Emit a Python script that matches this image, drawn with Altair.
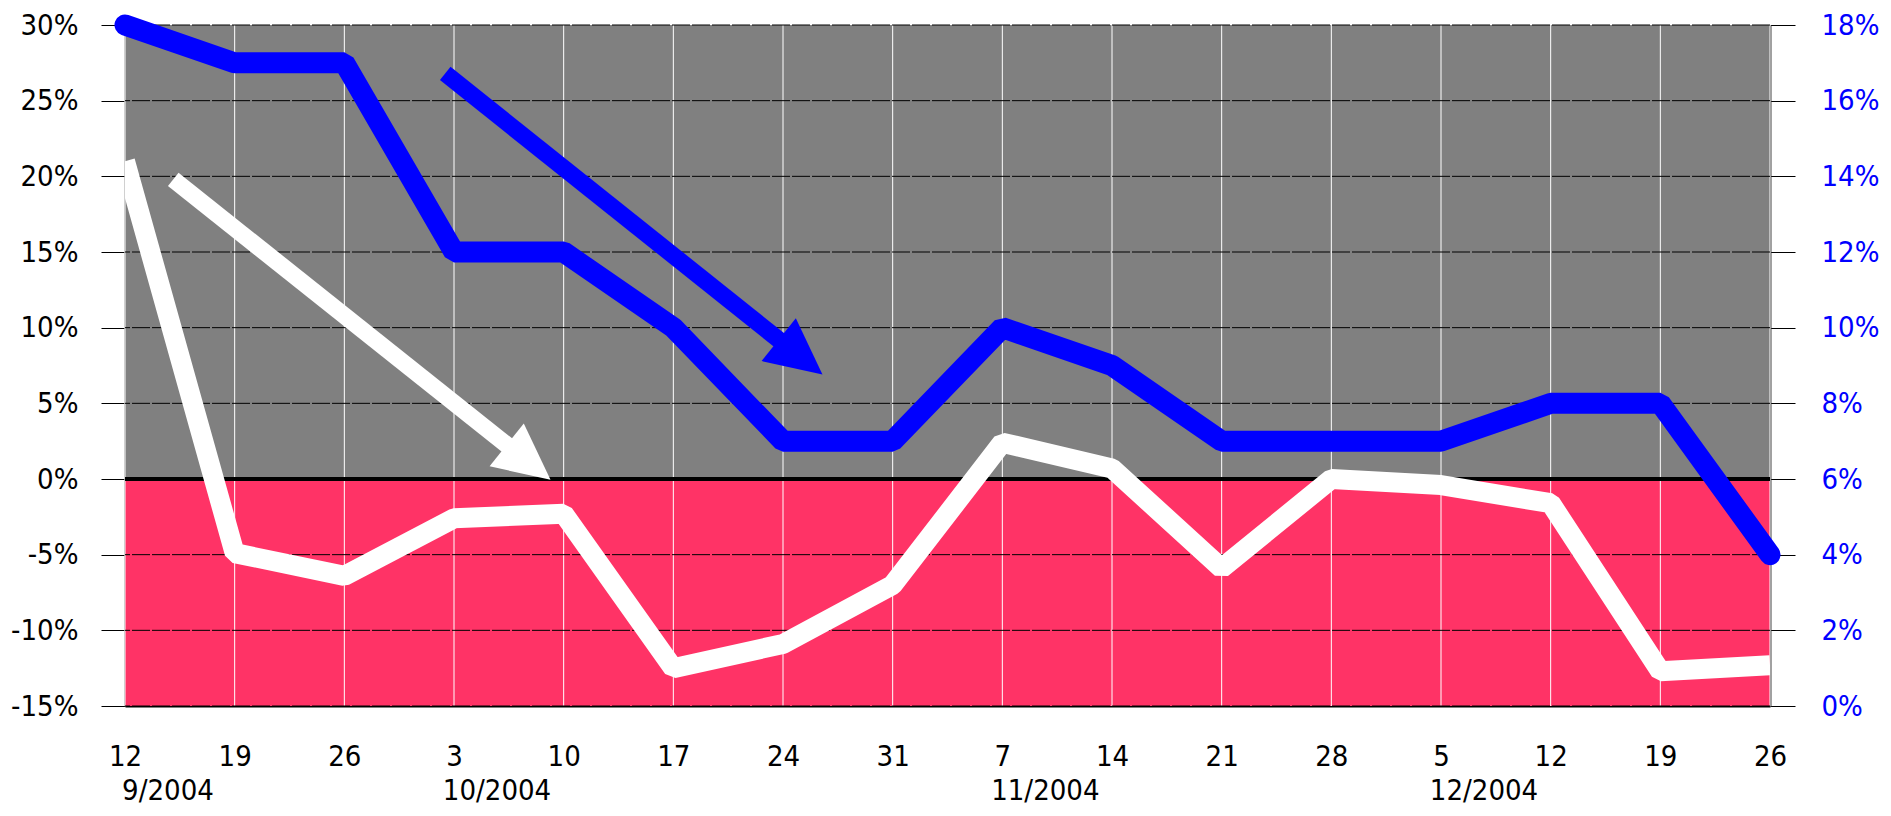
import json
import math
import altair as alt
import pandas as pd

# ---------------- data ----------------
day_labels = ["12", "19", "26", "3", "10", "17", "24", "31",
              "7", "14", "21", "28", "5", "12", "19", "26"]
month_labels = ["9/2004", "10/2004", "11/2004", "12/2004"]
month_label_pos = [0, 3, 8, 12]

white_values = [21.0, -4.9, -6.4, -2.6, -2.3, -12.5, -10.9, -7.0,
                2.4, 0.7, -5.9, 0.0, -0.4, -1.6, -12.7, -12.3]   # left axis, %
blue_values = [18, 17, 17, 12, 12, 10, 7, 7,
               10, 9, 7, 7, 7, 8, 8, 4]                          # right axis, %

left_ticks = [-15, -10, -5, 0, 5, 10, 15, 20, 25, 30]
right_ticks = [0, 2, 4, 6, 8, 10, 12, 14, 16, 18]

band_lo = [0, -15]
band_hi = [30, 0]
band_colors = ["#808080", "#FF3366"]

arrow_x_start = [2.92, 0.44]
arrow_y_start = [26.8, 19.8]
arrow_x_end = [6.36, 3.88]
arrow_y_end = [6.9, -0.05]
arrow_colors = ["#0000FF", "#FFFFFF"]

# ---------------- layout ----------------
W, H = 1645, 681
PAD_TOP = 17
FONT = "DejaVu Sans Condensed"
FS = 29
n = len(day_labels)
xmax = n - 1
ymin, ymax = left_ticks[0], left_ticks[-1]
px_x = W / xmax
px_y = H / (ymax - ymin)
HEAD_L = 56.0

xs = alt.Scale(domain=[0, xmax], nice=False, zero=False)
x_axis = alt.Axis(values=list(range(n)),
                  labelExpr=json.dumps(day_labels) + "[datum.value]",
                  ticks=False, tickSize=0, labelPadding=36,
                  labelFont=FONT, labelFontSize=FS, labelColor="black",
                  labelFlush=False, labelOverlap=False,
                  domainColor="black", domainWidth=2, grid=False, title=None)
ys_left = alt.Scale(domain=[ymin, ymax], nice=False, zero=False)
y_axis_left = alt.Axis(values=left_ticks, labelExpr="datum.value + '%'",
                       tickSize=24, tickColor="black", tickWidth=1,
                       labelPadding=23, labelFont=FONT, labelFontSize=FS,
                       labelColor="black", labelFlush=False, labelOverlap=False,
                       domainColor="#444444", domainWidth=2, grid=False, title=None)
ys_right = alt.Scale(domain=[right_ticks[0], right_ticks[-1]], nice=False, zero=False)
y_axis_right = alt.Axis(orient="right", values=right_ticks, labelExpr="datum.value + '%'",
                        tickSize=25, tickColor="black", tickWidth=1,
                        labelPadding=26, labelFont=FONT, labelFontSize=FS,
                        labelColor="#0000FF", labelFlush=False, labelOverlap=False,
                        domainColor="#444444", domainWidth=2, grid=False, title=None)

X = lambda f: alt.X(f, type="quantitative", scale=xs, axis=x_axis)
YL = lambda f: alt.Y(f, type="quantitative", scale=ys_left, axis=y_axis_left)

# ---------------- tables ----------------
bands = pd.DataFrame({"x0": 0, "x1": xmax, "lo": band_lo, "hi": band_hi, "c": band_colors})
vgrid = pd.DataFrame({"i": list(range(n))})
hgrid = pd.DataFrame({"v": left_ticks})
zero = pd.DataFrame({"v": [0]})
series = pd.DataFrame({"i": list(range(n)), "white": white_values, "blue": blue_values})
months = pd.DataFrame({"pos": month_label_pos, "label": month_labels})

rows = []
for xs0, ys0, xe, ye, c in zip(arrow_x_start, arrow_y_start, arrow_x_end, arrow_y_end, arrow_colors):
    dxp = (xe - xs0) * px_x
    dyp = -(ye - ys0) * px_y
    ln = math.hypot(dxp, dyp)
    ux, uy = dxp / ln, dyp / ln
    xc = xe - 0.5 * HEAD_L * ux / px_x
    yc = ye + 0.5 * HEAD_L * uy / px_y
    ang = math.degrees(math.atan2(dyp, dxp)) % 360
    rows.append({"xs": xs0, "ys": ys0, "xm": xc, "ym": yc, "xc": xc, "yc": yc,
                 "ang": ang, "c": c})
arrows = pd.DataFrame(rows)

# ---------------- layers ----------------
bg = alt.Chart(bands).mark_rect().encode(
    x=X("x0"), x2="x1", y=YL("lo"), y2="hi",
    color=alt.Color("c:N", scale=None))

vg = alt.Chart(vgrid).mark_rule(color="white", strokeWidth=1).encode(x=X("i"))

hg = alt.Chart(hgrid).mark_rule(color="black", strokeWidth=1, strokeDash=[18, 2]).encode(y=YL("v"))

zl = alt.Chart(zero).mark_rule(color="black", strokeWidth=4).encode(y=YL("v"))

white_line = alt.Chart(series).mark_line(
    color="white", strokeWidth=20, strokeCap="butt", strokeJoin="bevel", clip=True
).encode(x=X("i"), y=YL("white"))

shafts = alt.Chart(arrows).mark_rule(strokeWidth=17, strokeCap="butt").encode(
    x=X("xs"), y=YL("ys"), x2="xm", y2="ym", color=alt.Color("c:N", scale=None))

heads = alt.Chart(arrows).mark_point(
    shape="M1,0L-1,-0.98L-1,0.98Z", filled=True, opacity=1, strokeWidth=0
).encode(x=X("xc"), y=YL("yc"), size=alt.value(HEAD_L * HEAD_L),
         angle=alt.Angle("ang:Q", scale=None),
         color=alt.Color("c:N", scale=None))

month_text = alt.Chart(months).mark_text(
    font=FONT, fontSize=FS, align="center", baseline="alphabetic", dx=43, color="black"
).encode(x=X("pos"), y=alt.value(775), text="label:N")

left = alt.layer(bg, vg, hg, zl, white_line, shafts, heads, month_text)

blue_line = alt.Chart(series).mark_line(
    color="#0000FF", strokeWidth=21, strokeCap="round", strokeJoin="bevel"
).encode(x=X("i"), y=alt.Y("blue:Q", scale=ys_right, axis=y_axis_right))

chart = alt.layer(left, blue_line).resolve_scale(y="independent").properties(
    width=W, height=H,
    padding={"left": 117, "top": PAD_TOP, "right": 113, "bottom": 102},
    autosize=alt.AutoSizeParams(type="none"),
).configure_view(strokeWidth=0)

chart.save("out.html", embed_options={"renderer": "svg", "actions": False})
